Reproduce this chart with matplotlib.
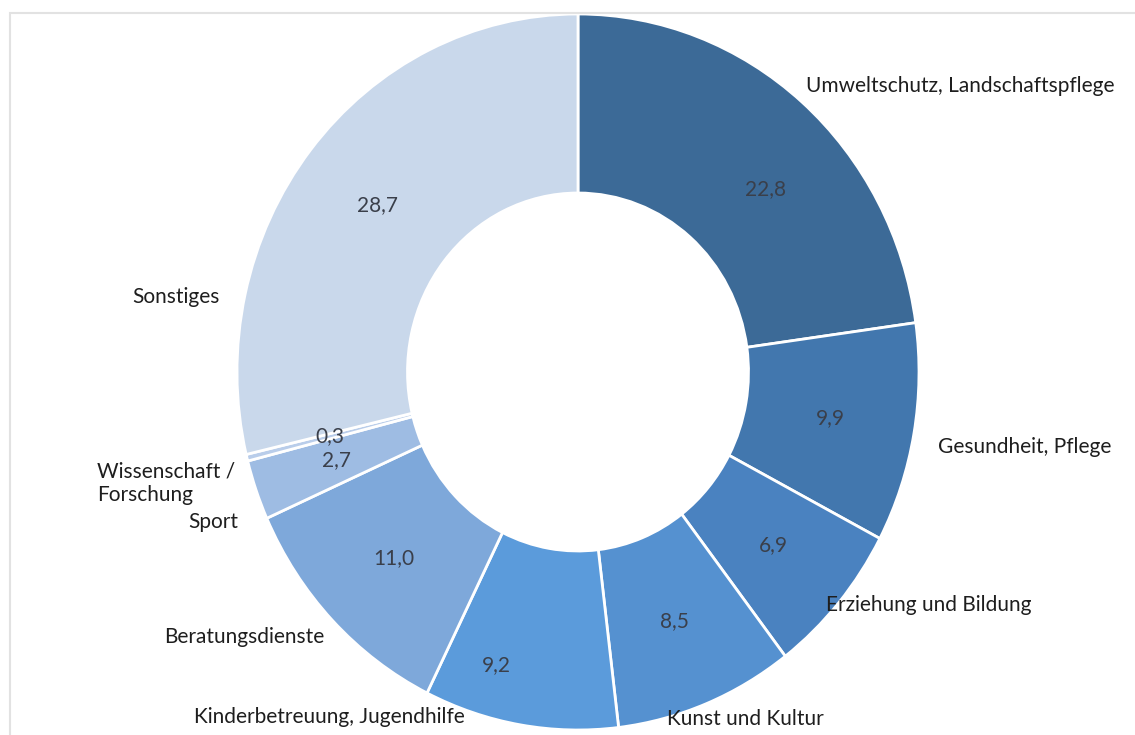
import matplotlib.pyplot as plt
import matplotlib.patches as mpatches
import numpy as np

plt.rcParams['font.family'] = ['Lato', 'DejaVu Sans']

# Anteile in Prozent, im Uhrzeigersinn ab 12 Uhr
categories = ['Umweltschutz, Landschaftspflege', 'Gesundheit, Pflege', 'Erziehung und Bildung',
              'Kunst und Kultur', 'Kinderbetreuung, Jugendhilfe', 'Beratungsdienste',
              'Sport', 'Wissenschaft /\nForschung', 'Sonstiges']
values = [22.8, 9.9, 6.9, 8.5, 9.2, 11.0, 2.7, 0.3, 28.7]
value_labels = ['22,8', '9,9', '6,9', '8,5', '9,2', '11,0', '2,7', '0,3', '28,7']

colors = ['#3C6A97', '#4277AE', '#4A82C0', '#5591D0', '#5B9BDB',
          '#7EA8DA', '#9EBCE3', '#B9CDEA', '#C9D8EB']

# Lage der Beschriftungen (relativ zum Kreismittelpunkt, Radius = 1)
cat_pos = [(1.12, 0.80, 'center'), (1.31, -0.21, 'center'), (1.03, -0.65, 'center'),
           (0.49, -0.97, 'center'), (-0.73, -0.965, 'center'), (-0.98, -0.74, 'center'),
           (-0.995, -0.42, 'right'), (-1.41, -0.31, 'left'), (-1.18, 0.21, 'center')]
pct_pos = [(0.55, 0.51), None, None, None, (-0.24, -0.82), None, None, None, None]

W, H = 1135, 735
fig = plt.figure(figsize=(W / 100, H / 100), dpi=100)

# grauer Rahmen oben / links
fig.add_artist(mpatches.Rectangle((10 / W, -0.1), 1.2, (H - 13) / H + 0.1,
                                  transform=fig.transFigure, fill=False,
                                  edgecolor='#E2E2E2', lw=1.5))

cx, cy, rx, ry = 578, 372, 341, 358
ax = fig.add_axes([(cx - rx) / W, (H - cy - ry) / H, 2 * rx / W, 2 * ry / H])

wedges, _ = ax.pie(values, colors=colors, startangle=90, counterclock=False,
                   wedgeprops=dict(width=0.5, edgecolor='white', linewidth=2))
ax.set_aspect('auto')
ax.set_xlim(-1, 1)
ax.set_ylim(-1, 1)
ax.axis('off')

for i, w in enumerate(wedges):
    mid = np.deg2rad((w.theta1 + w.theta2) / 2)
    if pct_pos[i] is None:
        px, py = 0.75 * np.cos(mid), 0.75 * np.sin(mid)
    else:
        px, py = pct_pos[i]
    ax.text(px, py, value_labels[i], ha='center', va='center',
            fontsize=15, color='#3A3F4A')
    lx, ly, ha = cat_pos[i]
    ax.text(lx, ly, categories[i], ha=ha, va='center', fontsize=15,
            color='#1E1E1E', linespacing=1.2)

fig.savefig('out.png', dpi=100)
